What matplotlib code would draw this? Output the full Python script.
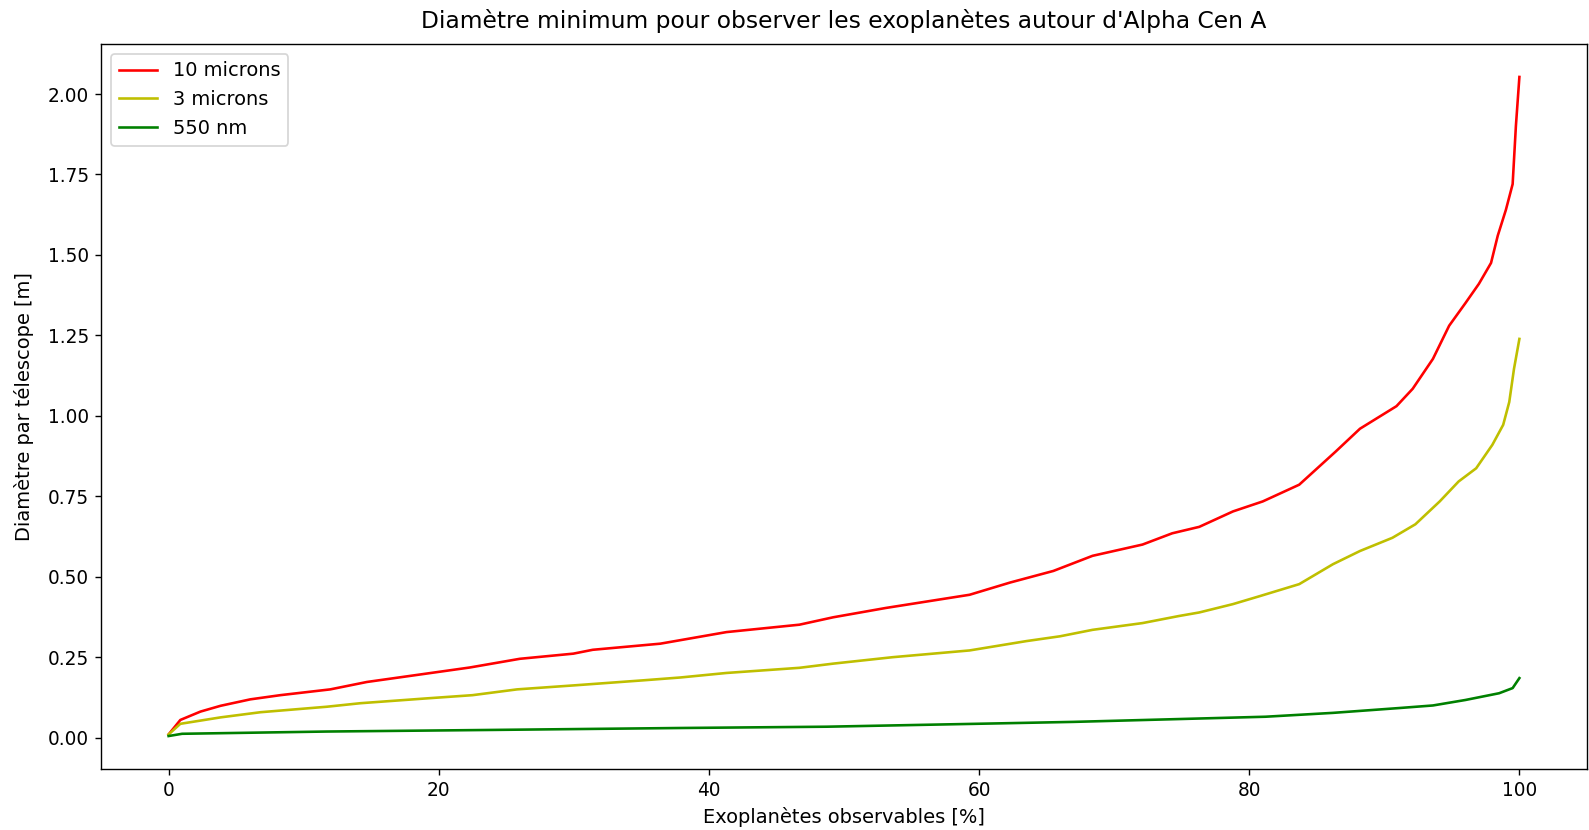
import numpy as np
import matplotlib.pyplot as plt
from matplotlib.ticker import MultipleLocator, FormatStrFormatter

# minimum telescope diameter vs. fraction of observable exoplanets (Alpha Cen A)
x_10um = [0, 0.87, 2.36, 3.85, 6.05, 8.27, 11.97, 14.68, 17.9, 22.3, 26.0, 29.96,
          31.4, 36.4, 41.3, 46.7, 49.2, 53.1, 59.3, 62.3, 65.5, 68.4, 72.1, 74.3,
          76.3, 78.8, 81.0, 83.7, 86.4, 88.2, 90.9, 92.1, 93.6, 94.8, 96.0, 97.0,
          97.9, 98.4, 99.0, 99.5, 99.74, 100]
d_10um = [0.01, 0.055, 0.081, 0.099, 0.119, 0.132, 0.150, 0.173, 0.192, 0.218, 0.245,
          0.261, 0.273, 0.292, 0.328, 0.351, 0.374, 0.403, 0.444, 0.482, 0.518, 0.565,
          0.600, 0.635, 0.655, 0.703, 0.734, 0.786, 0.889, 0.96, 1.03, 1.084, 1.177,
          1.28, 1.35, 1.41, 1.475, 1.56, 1.64, 1.72, 1.90, 2.053]

x_3um = [0, 0.87, 3.85, 6.8, 11.7, 14.2, 19.1, 22.5, 25.8, 30.2, 35.1, 37.9, 41.3,
         46.7, 49.2, 53.6, 59.3, 63.5, 66.0, 68.4, 72.1, 74.8, 76.3, 78.8, 80.8,
         83.7, 86.2, 88.2, 90.6, 92.3, 94.1, 95.5, 96.8, 98.0, 98.8, 99.25, 99.6, 100]
d_3um = [0.01, 0.043, 0.063, 0.079, 0.096, 0.107, 0.122, 0.132, 0.150, 0.163, 0.178,
         0.187, 0.201, 0.217, 0.230, 0.250, 0.271, 0.300, 0.315, 0.335, 0.356, 0.378,
         0.389, 0.415, 0.44, 0.477, 0.539, 0.58, 0.621, 0.663, 0.734, 0.796, 0.837,
         0.91, 0.972, 1.043, 1.146, 1.239]

x_550nm = [0, 1, 11.7, 24, 37.9, 48.7, 61, 67, 75, 81.2, 86.2, 91.1, 93.6, 96, 98.5,
           99.5, 100]
d_550nm = [0.005, 0.012, 0.019, 0.024, 0.030, 0.034, 0.044, 0.049, 0.058, 0.065,
           0.077, 0.092, 0.100, 0.117, 0.138, 0.154, 0.185]

plt.rcParams['font.size'] = 11.2

fig, ax = plt.subplots(figsize=(1589 / 125, 830 / 125), dpi=125)
fig.subplots_adjust(left=0.0636, right=0.9987, top=0.947, bottom=0.0735)

ax.plot(x_10um, d_10um, 'r', label='10 microns')
ax.plot(x_3um, d_3um, 'y', label='3 microns')
ax.plot(x_550nm, d_550nm, 'g', label='550 nm')

ax.yaxis.set_major_locator(MultipleLocator(0.25))
ax.yaxis.set_major_formatter(FormatStrFormatter('%.2f'))
ax.tick_params(labelsize=10.7)

ax.set_title("Diamètre minimum pour observer les exoplanètes autour d'Alpha Cen A", pad=9)
ax.set_xlabel('Exoplanètes observables [%]')
ax.set_ylabel('Diamètre par télescope [m]', labelpad=8)
ax.legend(loc='upper left')

fig.savefig('out.png', dpi=125)
